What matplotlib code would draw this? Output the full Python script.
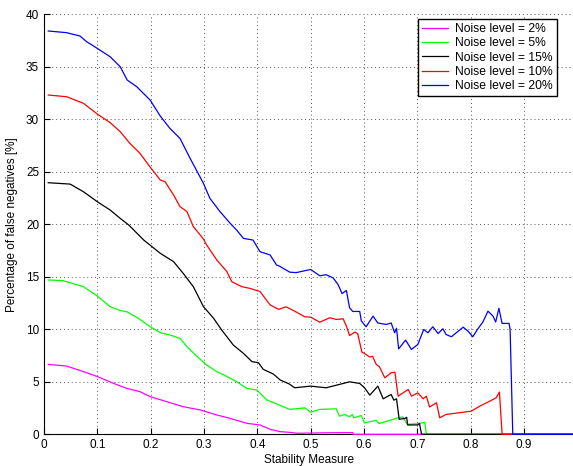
import matplotlib
matplotlib.use("Agg")
import matplotlib.pyplot as plt

plt.rcParams['font.family'] = ['Liberation Sans', 'DejaVu Sans']

# stability measure (x) and percentage of false negatives (y)
x_2 = [0.008, 0.0425, 0.074, 0.1, 0.13, 0.155, 0.18, 0.199, 0.23, 0.261, 0.293,
       0.324, 0.349, 0.38, 0.405, 0.424, 0.443, 0.46, 0.475, 0.5, 0.54, 0.579,
       0.58, 1.0]
y_2 = [6.66, 6.5, 5.97, 5.5, 4.86, 4.38, 4.06, 3.59, 3.11, 2.63, 2.32,
       1.84, 1.52, 1.05, 0.89, 0.48, 0.25, 0.19, 0.1, 0.12, 0.15, 0.16,
       0.0, 0.0]

x_5 = [0.008, 0.036, 0.074, 0.1, 0.124, 0.143, 0.155, 0.174, 0.199, 0.218, 0.236,
       0.255, 0.268, 0.286, 0.305, 0.324, 0.343, 0.361, 0.38, 0.399, 0.418,
       0.436, 0.461, 0.489, 0.5, 0.517, 0.548, 0.554, 0.564, 0.573, 0.578,
       0.581, 0.595, 0.601, 0.623, 0.628, 0.664, 0.673, 0.681, 0.70, 0.714,
       0.717, 1.0]
y_5 = [14.7, 14.63, 14.06, 13.17, 12.16, 11.78, 11.68, 11.14, 10.25, 9.68, 9.46,
       9.14, 8.35, 7.46, 6.6, 5.97, 5.5, 5.02, 4.38, 4.22, 3.27,
       2.89, 2.37, 2.52, 2.11, 2.37, 2.43, 1.73, 1.89, 1.67, 1.89,
       1.57, 1.79, 1.08, 1.33, 1.02, 1.57, 1.65, 0.95, 1.0, 1.14,
       0.0, 0.0]

x_15 = [0.008, 0.049, 0.074, 0.1, 0.124, 0.143, 0.159, 0.187, 0.218, 0.243, 0.261,
        0.28, 0.299, 0.318, 0.333, 0.355, 0.374, 0.39, 0.402, 0.411, 0.43, 0.443,
        0.46, 0.47, 0.5, 0.529, 0.554, 0.573, 0.592, 0.601, 0.611, 0.626, 0.636,
        0.645, 0.651, 0.656, 0.661, 0.666, 0.677, 0.68, 0.682, 0.701, 0.704,
        0.708, 1.0]
y_15 = [23.96, 23.83, 23.1, 22.15, 21.36, 20.56, 19.93, 18.5, 17.24, 16.44, 15.33,
        14.06, 12.16, 11.05, 9.94, 8.5, 7.71, 6.92, 6.82, 6.19, 5.74, 5.17,
        4.79, 4.43, 4.59, 4.43, 4.75, 5.0, 4.84, 4.43, 3.73, 4.59, 3.38,
        3.63, 3.79, 3.25, 3.38, 1.43, 1.52, 1.62, 0.89, 0.89, 1.05,
        0.0, 0.0]

x_10 = [0.008, 0.0425, 0.074, 0.1, 0.124, 0.143, 0.161, 0.18, 0.196, 0.218, 0.227,
        0.243, 0.255, 0.268, 0.28, 0.299, 0.305, 0.324, 0.343, 0.352, 0.371, 0.386,
        0.405, 0.424, 0.44, 0.454, 0.47, 0.489, 0.5, 0.517, 0.536, 0.548, 0.561,
        0.567, 0.573, 0.583, 0.588, 0.59, 0.596, 0.604, 0.611, 0.616, 0.623,
        0.629, 0.639, 0.651, 0.658, 0.664, 0.683, 0.689, 0.701, 0.711, 0.717,
        0.723, 0.736, 0.742, 0.754, 0.801, 0.817, 0.836, 0.848, 0.854, 0.859, 1.0]
y_10 = [32.31, 32.15, 31.52, 30.5, 29.68, 28.82, 27.71, 26.76, 25.65, 24.22, 24.06,
        22.79, 21.68, 21.21, 19.78, 18.6, 18.03, 16.6, 15.49, 14.54, 14.06, 13.9,
        13.6, 12.32, 11.9, 12.14, 11.73, 11.19, 11.16, 10.68, 11.1, 10.94, 11.0,
        10.3, 9.41, 9.73, 9.6, 9.2, 7.83, 7.6, 7.35, 7.44, 6.65,
        6.43, 5.38, 5.86, 5.92, 3.63, 4.27, 3.63, 3.95, 3.38, 3.63,
        2.6, 3.0, 1.57, 1.89, 2.2, 2.68, 3.16, 3.48, 4.02, 0.0, 0.0]

x_20 = [0.008, 0.0425, 0.0675, 0.08, 0.1, 0.124, 0.143, 0.156, 0.174, 0.199, 0.218,
        0.236, 0.255, 0.274, 0.299, 0.311, 0.33, 0.349, 0.361, 0.374, 0.392, 0.405,
        0.424, 0.436, 0.442, 0.461, 0.473, 0.5, 0.517, 0.529, 0.542, 0.551, 0.559,
        0.567, 0.573, 0.579, 0.592, 0.595, 0.604, 0.617, 0.626, 0.642, 0.651,
        0.6575, 0.661, 0.665, 0.678, 0.689, 0.701, 0.712, 0.72, 0.729, 0.739,
        0.748, 0.754, 0.764, 0.773, 0.786, 0.795, 0.804, 0.813, 0.823, 0.8325,
        0.842, 0.847, 0.853, 0.859, 0.872, 0.874, 0.879, 1.0]
y_20 = [38.41, 38.25, 37.93, 37.39, 36.75, 35.96, 35.0, 33.74, 33.1, 31.83, 30.31,
        29.14, 28.18, 26.28, 23.9, 22.48, 21.21, 20.1, 19.46, 18.66, 18.5, 17.39,
        17.08, 16.13, 16.0, 15.44, 15.4, 15.7, 15.1, 15.2, 14.9, 14.3, 13.4,
        13.7, 12.05, 11.7, 11.7, 10.8, 10.24, 11.25, 10.6, 10.46, 10.6,
        9.67, 10.1, 8.14, 8.97, 8.08, 8.56, 9.98, 9.67, 10.24, 9.6,
        10.05, 9.5, 9.29, 9.67, 10.2, 9.83, 9.29, 10.0, 10.7, 11.73,
        11.25, 10.7, 12.0, 10.56, 10.56, 10.0, 0.0, 0.0]

x_ticks = [0, 0.1, 0.2, 0.3, 0.4, 0.5, 0.6, 0.7, 0.8, 0.9]
x_tick_labels = ['0', '0.1', '0.2', '0.3', '0.4', '0.5', '0.6', '0.7', '0.8', '0.9']
y_ticks = [0, 5, 10, 15, 20, 25, 30, 35, 40]

fig = plt.figure(figsize=(5.73, 4.66), dpi=100)
ax = fig.add_axes([44 / 573, 31.7 / 466, 529 / 573, 420 / 466])

# same order as the legend
ax.plot(x_2, y_2, color='#ff00ff', lw=0.9, label='Noise level = 2%', clip_on=False)
ax.plot(x_5, y_5, color='#00ff00', lw=0.9, label='Noise level = 5%', clip_on=False)
ax.plot(x_15, y_15, color='black', lw=0.9, label='Noise level = 15%', clip_on=False)
ax.plot(x_10, y_10, color='#ff0000', lw=0.9, label='Noise level = 10%', clip_on=False)
ax.plot(x_20, y_20, color='#0000ff', lw=0.9, label='Noise level = 20%', clip_on=False)

ax.set_xlim(0, 529 / 533.3)
ax.set_ylim(0, 40)
ax.set_xticks(x_ticks)
ax.set_xticklabels(x_tick_labels)
ax.set_yticks(y_ticks)
ax.tick_params(direction='in', length=4, width=0.8, labelsize=8.5, pad=3.5)

ax.grid(True, linestyle=(0, (1, 3)), color='#555555', linewidth=0.7)
ax.set_axisbelow(True)
ax.spines['top'].set_visible(False)
ax.spines['right'].set_visible(False)
ax.spines['left'].set_linewidth(0.8)
ax.spines['bottom'].set_linewidth(0.8)
ax.spines['bottom'].set_zorder(1)

ax.set_xlabel('Stability Measure', fontsize=8.5, labelpad=2)
ax.set_ylabel('Percentage of false negatives [%]', fontsize=8.5, labelpad=6)

leg = ax.legend(loc='upper right', bbox_to_anchor=(556.7 / 573, 1 - 19 / 466),
                bbox_transform=fig.transFigure, borderaxespad=0, fontsize=8.7,
                fancybox=False, framealpha=1, edgecolor='black',
                handlelength=2.1, handletextpad=0.6, labelspacing=0.18,
                borderpad=0.35)
leg.get_frame().set_linewidth(1.0)

fig.savefig('out.png', dpi=100)
